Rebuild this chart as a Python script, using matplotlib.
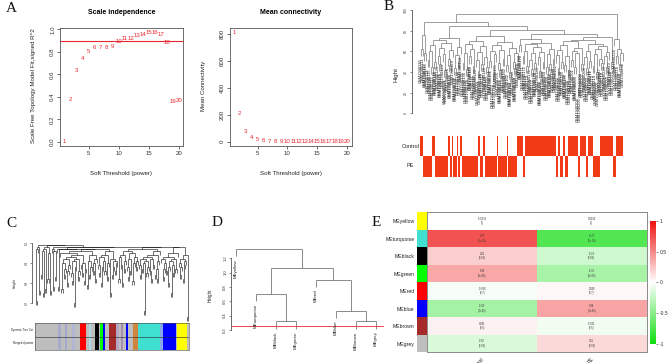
import matplotlib
matplotlib.use('Agg')
import matplotlib.pyplot as plt
import numpy as np
from matplotlib.collections import LineCollection
from matplotlib.colors import LinearSegmentedColormap

plt.rcParams['font.family'] = ['Liberation Sans', 'DejaVu Sans']

W, H = 669, 363

# ---- A: soft threshold
powers = list(range(1, 21))
sft_r2 = [0.00, 0.38, 0.63, 0.74, 0.80, 0.84, 0.84, 0.84, 0.845, 0.89,
          0.915, 0.92, 0.945, 0.95, 0.97, 0.97, 0.955, 0.887, 0.36, 0.37]
mean_k = [810, 210, 72, 30, 13, 8, 5, 3, 2, 2, 1, 1, 1, 1, 1, 1, 1, 1, 1, 1]
r2_cut = 0.9

# ---- B: sample clustering (merge height between neighbouring leaves)
b_gaps = [62, 76, 58, 88, 52, 60, 45, 66, 50, 71, 55, 48, 63, 57, 42, 68, 53, 47, 61, 73,
          44, 56, 50, 64, 84, 49, 58, 43, 67, 55, 62, 46, 70, 52, 41, 59, 48, 65, 54, 45,
          75, 51, 60, 38, 57, 66, 49, 42, 61, 53, 69, 47, 56, 40, 63, 50, 44, 58, 81, 66,
          72, 55, 60, 46, 67, 52, 43, 58, 49, 64, 54, 41, 59, 50, 68, 45, 57, 48, 62, 53,
          77, 56, 44, 61, 50, 66, 47, 55, 42, 70, 52, 60, 45, 58, 24, 63, 48, 71, 54, 44,
          60, 51, 67, 46, 57, 40, 62, 53, 49, 65, 55, 45, 59, 74, 50, 96, 72, 55, 62, 48, 58]
b_runs = [("C", 2), ("P", 5), ("C", 2), ("P", 8), ("C", 1), ("P", 1), ("C", 1), ("P", 2),
          ("C", 1), ("P", 1), ("C", 1), ("P", 10), ("C", 1), ("P", 2), ("C", 1), ("P", 7),
          ("C", 1), ("P", 5), ("C", 1), ("P", 5), ("C", 4), ("P", 1), ("C", 19), ("P", 1),
          ("C", 1), ("P", 2), ("C", 1), ("P", 2), ("C", 6), ("P", 1), ("C", 4), ("P", 1),
          ("C", 3), ("P", 4), ("C", 8), ("P", 2), ("C", 4)]
b_trait_labels = ["Control", "PE"]

# ---- C: gene tree + module colours
c_gaps = [71, 97, 98, 76, 99, 84, 96, 75, 97, 77, 98, 82, 95, 76, 99, 97, 78, 96, 83, 98,
          97, 78, 97, 95, 77, 90, 84, 87, 92, 80, 86, 89, 93, 85, 81, 91, 70, 88, 92, 83,
          86, 94, 89, 85, 90, 81, 87, 96, 79, 91, 84, 88, 94, 86, 90, 82, 92, 97, 89, 85,
          93, 80, 88, 91, 86, 94, 83, 90, 96, 75, 92, 84, 88, 91, 86, 90, 98, 82, 93, 89,
          80, 94, 87, 91, 96, 88, 83, 92, 86, 95, 81, 90, 93, 88, 91, 97, 89, 84, 92, 87,
          90, 66, 91, 85, 88, 93, 86, 82, 92, 89, 94, 84, 87, 82, 91, 96, 98, 92, 83, 87,
          90, 86, 93, 80, 88, 91, 75, 89, 85, 92, 87, 95, 98, 90, 84, 88, 92, 82, 89, 91,
          94, 63]
c_mod_colors = ['#BEBEBE', '#A9ABCB', '#BEBEBE', '#A3A8CC', '#BEBEBE', '#B1B6D6', '#BEBEBE',
                '#FF0000', '#BEBEBE', '#ADD8E6', '#BEBEBE', '#000000', '#BEBEBE', '#00FF00',
                '#0000FF', '#BEBEBE', '#A52A2A', '#B4A6C4', '#BEBEBE', '#A78CB0', '#BEBEBE',
                '#0000FF', '#BEBEBE', '#CD853F', '#40E0D0', '#87A9E8', '#0000FF', '#BEBEBE',
                '#FFFF00', '#BEBEBE']
c_mod_sizes = [23, 3, 4, 2, 5, 3, 5, 6, 3, 2, 4, 4, 1, 3, 2, 4, 7, 3, 2, 2,
               3, 2, 5, 5, 22, 3, 13, 1, 10, 2]
c_rows = ["Dynamic Tree Cut", "Merged dynamic"]

# ---- D: eigengene tree
d_leaves = ["MEyellow", "MEturquoise", "MEblack", "MEgreen", "MEred", "MEblue", "MEbrown", "MEgrey"]
d_gaps = [1.33, 0.70, 0.32, 1.06, 0.90, 0.47, 0.32]
d_cut = 0.25

# ---- E: module-trait relationships
e_modules = ["MEyellow", "MEturquoise", "MEblack", "MEgreen", "MEred", "MEblue", "MEbrown", "MEgrey"]
e_colors = ['#FFFF00', '#40E0D0', '#000000', '#00FF00', '#FF0000', '#0000FF', '#A52A2A', '#BEBEBE']
e_traits = ["Control", "PE"]
e_cor_control = [-0.0033, 0.72, 0.21, 0.36, -0.036, -0.38, 0.061, -0.16]
e_cor_pe = [0.0033, -0.72, -0.21, -0.36, 0.036, 0.38, -0.061, 0.16]
e_pvals = [1, 4e-19, 0.03, 9e-05, 0.7, 3e-05, 0.5, 0.09]


fig = plt.figure(figsize=(W / 100, H / 100), dpi=100)


def add_ax(x0, y0, x1, y1):
    return fig.add_axes([x0 / W, 1 - y1 / H, (x1 - x0) / W, (y1 - y0) / H])


def ftext(x, y, s, **kw):
    return fig.text(x / W, 1 - y / H, s, **kw)


def r_style(ax, fs):
    for sp in ax.spines.values():
        sp.set_linewidth(0.6)
        sp.set_color('#555555')
    ax.tick_params(length=2, width=0.5, pad=1.5, labelsize=fs, colors='#333333')


def dendro(ax, gaps, xs, hang, color, lw):
    segs, ends = [], {}

    def rec(lo, hi):
        if lo == hi:
            return xs[lo], None
        k = lo + int(np.argmax(gaps[lo:hi]))
        h = gaps[k]
        xc = []
        for a, b in ((lo, k), (k + 1, hi)):
            x, hc = rec(a, b)
            if hc is None:
                hc = h - hang
                ends[a] = hc
            segs.append([(x, hc), (x, h)])
            xc.append(x)
        segs.append([(xc[0], h), (xc[1], h)])
        return (xc[0] + xc[1]) / 2, h

    rec(0, len(xs) - 1)
    ax.add_collection(LineCollection(segs, colors=color, linewidths=lw))
    return ends


red = '#E8282E'
serif = dict(family='Liberation Serif', fontsize=11, color='#111111')

# ================= A =================
ax1 = add_ax(60, 28, 183, 146)
for p, r in zip(powers, sft_r2):
    ax1.text(p, r, str(p), color=red, ha='center', va='center', fontsize=4.4)
ax1.axhline(r2_cut, color=red, lw=0.8)
ax1.set_xlim(0.22, 20.72)
ax1.set_ylim(-0.038, 1.012)
ax1.set_xticks([5, 10, 15, 20])
ax1.set_yticks([0, 0.2, 0.4, 0.6, 0.8, 1.0])
ax1.set_yticklabels(["0.0", "0.2", "0.4", "0.6", "0.8", "1.0"], rotation=90, va='center')
r_style(ax1, 4.4)
ftext(122, 13, "Scale independence", ha='center', va='center', fontsize=5, fontweight='bold')
ftext(121, 173, "Soft Threshold (power)", ha='center', va='center', fontsize=4.4, color='#222222')
ftext(34, 86, "Scale Free Topology Model Fit,signed R^2", rotation=90, ha='center', va='center',
      fontsize=4.4, color='#222222')

ax2 = add_ax(230, 28, 352, 146)
for p, k in zip(powers, mean_k):
    ax2.text(p, k, str(p), color=red, ha='center', va='center', fontsize=4.4)
ax2.set_xlim(0.33, 20.9)
ax2.set_ylim(-32, 842)
ax2.set_xticks([5, 10, 15, 20])
ax2.set_yticks([0, 200, 400, 600, 800])
ax2.set_yticklabels(["0", "200", "400", "600", "800"], rotation=90, va='center')
r_style(ax2, 4.4)
ftext(291, 13, "Mean connectivity", ha='center', va='center', fontsize=5, fontweight='bold')
ftext(291, 173, "Soft Threshold (power)", ha='center', va='center', fontsize=4.4, color='#222222')
ftext(203, 86, "Mean Connectivity", rotation=90, ha='center', va='center', fontsize=4.4, color='#222222')
ftext(6, 8, "A", va='center', ha='left', **serif)

# ================= B =================
b_groups = [g for g, n in b_runs for _ in range(n)]
nb = len(b_groups)
b_names = ["GSM%d" % (1940110 + i) for i in range(nb)]
axb = add_ax(405, 5, 630, 135)
xs = np.arange(nb)
ends = dendro(axb, np.array(b_gaps, float), xs, 7, '#666666', 0.45)
for i, nm in enumerate(b_names):
    axb.text(i, ends[i] - 1.5, nm, rotation=90, ha='center', va='top', fontsize=2.9, color='#222222')
axb.set_xlim(-9.6, 125.4)
axb.set_ylim(-21, 104.8)
for s in ('top', 'right', 'bottom'):
    axb.spines[s].set_visible(False)
axb.spines['left'].set_position(('data', -5.6))
axb.spines['left'].set_bounds(0, 100)
axb.set_xticks([])
axb.set_yticks([0, 20, 40, 60, 80, 100])
axb.set_yticklabels(["0", "20", "40", "60", "80", "100"], rotation=90, va='center')
r_style(axb, 2.4)
axb.tick_params(length=1.5, width=0.4, pad=1)
ftext(396, 75, "Hight", rotation=90, ha='center', va='center', fontsize=4.6, color='#222222')
ftext(384, 7, "B", va='center', ha='left', **serif)

axbb = add_ax(420, 136, 623, 177)
bar_red = '#F23A16'
for row, lab in enumerate(b_trait_labels):
    cols = [bar_red if g == lab[0] else 'white' for g in b_groups]
    axbb.bar(xs, 1, width=1.0, bottom=1 - row, color=cols, linewidth=0)
axbb.set_xlim(-0.5, nb - 0.5)
axbb.set_ylim(0, 2)
axbb.axis('off')
ftext(410.5, 146.5, "Control", ha='center', va='center', fontsize=4, color='#222222')
ftext(410.5, 166, "PE", ha='center', va='center', fontsize=4, color='#222222')

# ================= C =================
total = sum(c_mod_sizes)
axc = add_ax(35, 240, 189, 322)
nc = len(c_gaps) + 1
cx = np.linspace(0.6, total - 0.6, nc)
dendro(axc, np.array(c_gaps) / 100, cx, 0.02, '#000000', 0.4)
axc.set_xlim(0, total)
axc.set_ylim(0.605, 1.015)
for s in ('top', 'right', 'bottom'):
    axc.spines[s].set_visible(False)
axc.spines['left'].set_position(('outward', 2))
axc.spines['left'].set_bounds(0.7, 1.0)
axc.set_xticks([])
axc.set_yticks([0.7, 0.8, 0.9, 1.0])
axc.set_yticklabels(["0.7", "0.8", "0.9", "1.0"], rotation=90, va='center')
r_style(axc, 2.2)
axc.tick_params(length=1.5, width=0.4, pad=1)
ftext(15, 283, "Height", rotation=90, ha='center', va='center', fontsize=2.4, color='#222222')
ftext(6, 223.5, "C", va='center', ha='left', **serif)

axcc = add_ax(35, 323, 189, 350)
lefts = np.cumsum([0] + c_mod_sizes[:-1])
for row in (0, 1):
    axcc.bar(lefts, 1, width=c_mod_sizes, bottom=row, color=c_mod_colors, align='edge', linewidth=0)
axcc.axhline(1, color='#222222', lw=0.4)
axcc.set_xlim(0, total)
axcc.set_ylim(0, 2)
axcc.set_xticks([])
axcc.set_yticks([])
for sp in axcc.spines.values():
    sp.set_linewidth(0.4)
    sp.set_color('#444444')
ftext(33, 329.5, c_rows[0], ha='right', va='center', fontsize=2, color='#222222')
ftext(33, 343, c_rows[1], ha='right', va='center', fontsize=2, color='#222222')

# ================= D =================
axd = add_ax(222, 240, 385, 362)
dx = np.arange(len(d_leaves))
dends = dendro(axd, np.array(d_gaps), dx, 0.1, '#777777', 0.6)
for i, nm in enumerate(d_leaves):
    axd.text(i, dends[i] - 0.04, nm, rotation=90, ha='center', va='top', fontsize=3.2, color='#222222')
axd.plot([-0.25, 7.36], [d_cut, d_cut], color=red, lw=0.6)
axd.set_xlim(-0.685, 7.465)
axd.set_ylim(-0.246, 1.455)
for s in ('top', 'right', 'bottom'):
    axd.spines[s].set_visible(False)
axd.spines['left'].set_position(('data', -0.25))
axd.spines['left'].set_bounds(0.2, 1.2)
axd.set_xticks([])
axd.set_yticks([0.2, 0.4, 0.6, 0.8, 1.0, 1.2])
axd.set_yticklabels(["0.2", "0.4", "0.6", "0.8", "1.0", "1.2"], rotation=90, va='center')
r_style(axd, 3)
axd.tick_params(length=1.5, width=0.4, pad=1)
ftext(210, 295, "Height", rotation=90, ha='center', va='center', fontsize=3.3, color='#222222')
ftext(212, 222.5, "D", va='center', ha='left', **serif)

# ================= E =================
cmap = LinearSegmentedColormap.from_list('gwr', ['#11DD11', '#FFFFFF', '#EE1111'])
mat = np.column_stack([e_cor_control, e_cor_pe])
axe = add_ax(427.3, 212.3, 646.7, 352.3)
mesh = axe.pcolormesh(np.arange(3), np.arange(len(e_modules) + 1), mat, cmap=cmap, vmin=-1, vmax=1)
axe.set_xlim(0, 2)
axe.set_ylim(len(e_modules), 0)
for i in range(len(e_modules)):
    for j in range(2):
        axe.text(j + 0.5, i + 0.5, "%.2g\n(%.1g)" % (mat[i, j], e_pvals[i]), ha='center', va='center',
                 fontsize=1.9, color='#333333', linespacing=1.1)
axe.set_yticks([])
axe.set_xticks([0.5, 1.5])
axe.set_xticklabels(e_traits, rotation=45, ha='right', va='top', rotation_mode='anchor', fontsize=3.7,
                    color='#222222')
axe.tick_params(length=0, pad=3)
for sp in axe.spines.values():
    sp.set_linewidth(0.7)
    sp.set_color('#8A8A8A')

axs = add_ax(416.7, 212.3, 426.7, 352.3)
axs.barh(np.arange(len(e_modules)), 1, height=1.0, color=e_colors, linewidth=0)
axs.set_ylim(len(e_modules) - 0.5, -0.5)
axs.set_xlim(0, 1)
axs.set_xticks([])
axs.set_yticks(np.arange(len(e_modules)))
axs.set_yticklabels(e_modules, fontsize=3.7, color='#222222')
axs.tick_params(length=0, pad=1.5)
for sp in axs.spines.values():
    sp.set_visible(False)

cax = add_ax(650, 220.7, 656, 344)
cb = fig.colorbar(mesh, cax=cax, ticks=[-1, -0.5, 0, 0.5, 1])
cb.outline.set_visible(False)
cb.ax.set_yticklabels(["-1", "-0.5", "0", "0.5", "1"])
cb.ax.tick_params(labelsize=3.6, length=1.5, width=0.4, pad=1, colors='#333333')
ftext(372, 223, "E", va='center', ha='left', **serif)

fig.savefig('out.png', dpi=100)
